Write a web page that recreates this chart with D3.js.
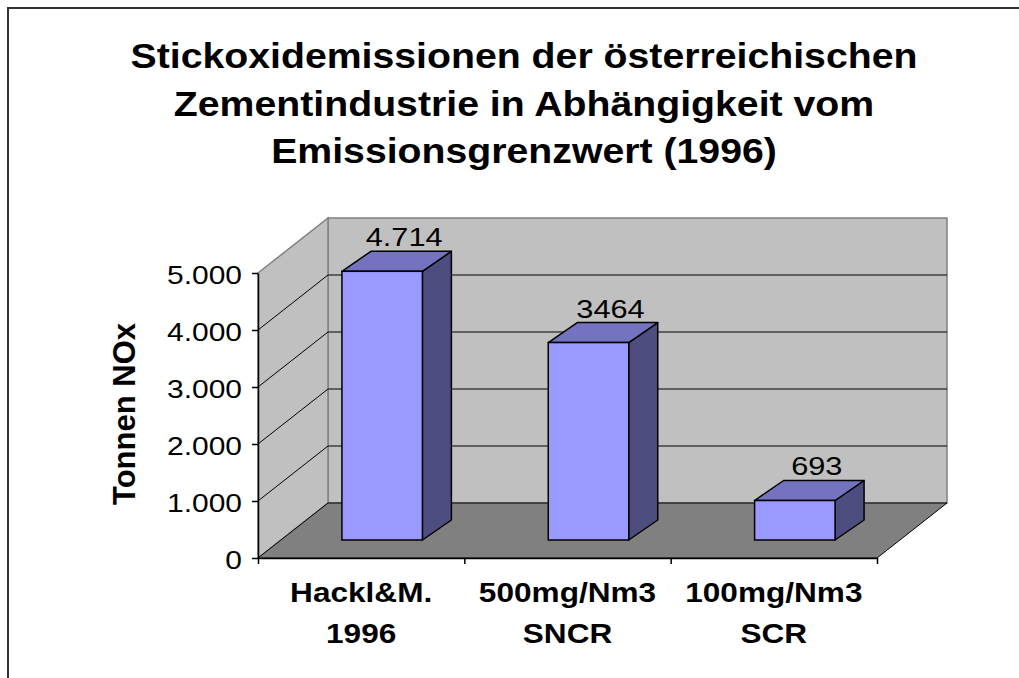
<!DOCTYPE html>
<meta charset="utf-8">
<script src="https://d3js.org/d3.v7.min.js"></script>
<style>
  body { margin: 0; background: #fff; }
  text { font-family: "Liberation Sans", Arial, sans-serif; fill: #000; }
</style>
<div id="chart"></div>
<script>
// data
var titleLines = ["Stickoxidemissionen der österreichischen",
                  "Zementindustrie in Abhängigkeit vom",
                  "Emissionsgrenzwert (1996)"];
var categories = [["Hackl&M.", "1996"], ["500mg/Nm3", "SNCR"], ["100mg/Nm3", "SCR"]];
var values = [4714, 3464, 693];
var valueLabels = ["4.714", "3464", "693"];
var yTicks = [0, 1000, 2000, 3000, 4000, 5000];
var yTickLabels = ["0", "1.000", "2.000", "3.000", "4.000", "5.000"];
var yTitle = "Tonnen NOx";

// layout
var W = 1019, H = 678;
var plotL = 258, plotR = 877, plotBase = 558, plotTop = 273;
var depth = {dx: 70, dy: -55};      // wall / floor depth
var barFront = {dx: 23, dy: -18};   // bar front face sits inside the floor
var barDepth = {dx: 29, dy: -20};   // bar thickness

var svg = d3.select("#chart").append("svg")
    .attr("width", W).attr("height", H);

// chart border
svg.append("rect")
    .attr("x", 8).attr("y", 8)
    .attr("width", W + 20).attr("height", H + 20)
    .attr("fill", "none").attr("stroke", "#333").attr("stroke-width", 2);

var y = d3.scaleLinear().domain([0, 5000]).range([plotBase, plotTop]);
var x = d3.scaleBand().domain(d3.range(categories.length)).range([plotL, plotR]);
var xEdge = d3.scaleLinear().domain([0, categories.length]).range([plotL, plotR]);

function pts(a) { return a.map(function(p) { return p.join(","); }).join(" "); }

// walls and floor
var yMax = y(5000), y0 = y(0);
svg.append("polygon")
    .attr("points", pts([[plotL + depth.dx, yMax + depth.dy], [plotR + depth.dx, yMax + depth.dy],
                         [plotR + depth.dx, y0 + depth.dy], [plotL + depth.dx, y0 + depth.dy]]))
    .attr("fill", "#c0c0c0").attr("stroke", "#808080").attr("stroke-width", 1.5);
svg.append("polygon")
    .attr("points", pts([[plotL, yMax], [plotL + depth.dx, yMax + depth.dy],
                         [plotL + depth.dx, y0 + depth.dy], [plotL, y0]]))
    .attr("fill", "#c0c0c0").attr("stroke", "#808080").attr("stroke-width", 1.5);
svg.append("polygon")
    .attr("points", pts([[plotL, y0], [plotR, y0], [plotR + depth.dx, y0 + depth.dy],
                         [plotL + depth.dx, y0 + depth.dy]]))
    .attr("fill", "#808080").attr("stroke", "#000").attr("stroke-width", 1);

// gridlines
var grid = yTicks.filter(function(d) { return d > 0 && d < 5000; });
svg.append("g").selectAll("line").data(grid).enter().append("line")
    .attr("x1", plotL + depth.dx).attr("x2", plotR + depth.dx)
    .attr("y1", function(d) { return y(d) + depth.dy; })
    .attr("y2", function(d) { return y(d) + depth.dy; })
    .attr("stroke", "#000").attr("stroke-width", 1);
svg.append("g").selectAll("line").data(grid).enter().append("line")
    .attr("x1", plotL).attr("x2", plotL + depth.dx)
    .attr("y1", function(d) { return y(d); })
    .attr("y2", function(d) { return y(d) + depth.dy; })
    .attr("stroke", "#000").attr("stroke-width", 1);

// bars
var barW = x.bandwidth() * 0.39;
var bars = svg.append("g").selectAll("g").data(values).enter().append("g");
function bx(i) { return x(i) + (x.bandwidth() - barW) / 2 + barFront.dx - 2; }
function byb() { return y0 + barFront.dy; }
function byt(d) { return y(d) + barFront.dy; }
bars.append("polygon") // side
    .attr("points", function(d, i) {
      var xr = bx(i) + barW;
      return pts([[xr, byt(d)], [xr + barDepth.dx, byt(d) + barDepth.dy],
                  [xr + barDepth.dx, byb() + barDepth.dy], [xr, byb()]]);
    })
    .attr("fill", "#4d4d80").attr("stroke", "#000").attr("stroke-width", 1.5).attr("stroke-linejoin", "round");
bars.append("polygon") // top
    .attr("points", function(d, i) {
      var xl = bx(i), xr = xl + barW, yt = byt(d);
      return pts([[xl, yt], [xl + barDepth.dx, yt + barDepth.dy],
                  [xr + barDepth.dx, yt + barDepth.dy], [xr, yt]]);
    })
    .attr("fill", "#7373bf").attr("stroke", "#000").attr("stroke-width", 1.5).attr("stroke-linejoin", "round");
bars.append("rect") // front
    .attr("x", function(d, i) { return bx(i); })
    .attr("y", function(d) { return byt(d); })
    .attr("width", barW)
    .attr("height", function(d) { return byb() - byt(d); })
    .attr("fill", "#9999ff").attr("stroke", "#000").attr("stroke-width", 1.5);

// value labels
bars.append("text")
    .attr("transform", function(d, i) {
      return "translate(" + (bx(i) + barW / 2 + 22) + "," + (byt(d) + barDepth.dy - 5) + ") scale(1.16,1)";
    })
    .attr("text-anchor", "middle")
    .style("font-size", "26.5px")
    .text(function(d, i) { return valueLabels[i]; });

// y axis
var yAxis = svg.append("g")
    .attr("transform", "translate(" + plotL + ",0)")
    .call(d3.axisLeft(y).tickValues(yTicks)
      .tickFormat(function(d, i) { return yTickLabels[i]; }).tickSize(6).tickSizeOuter(0));
yAxis.attr("font-family", null).attr("font-size", null);
yAxis.select(".domain").attr("stroke", "#000").attr("stroke-width", 1.5);
yAxis.selectAll(".tick line").attr("stroke", "#000").attr("stroke-width", 1.5);
yAxis.selectAll(".tick text")
    .attr("x", 0).attr("dy", "0.4em")
    .attr("transform", "translate(-16,0) scale(1.17,1)")
    .style("font-size", "25.6px");

// x axis
var xAxis = svg.append("g")
    .attr("transform", "translate(0," + plotBase + ")")
    .call(d3.axisBottom(xEdge).tickValues(d3.range(categories.length + 1))
      .tickFormat("").tickSize(6).tickSizeOuter(0));
xAxis.select(".domain").attr("stroke", "#000").attr("stroke-width", 1.5);
xAxis.selectAll(".tick line").attr("stroke", "#000").attr("stroke-width", 1.5);

// category labels
var cat = svg.append("g").selectAll("g").data(categories).enter().append("g");
cat.selectAll("text").data(function(d, i) { return d.map(function(t) { return {t: t, i: i}; }); })
  .enter().append("text")
    .attr("transform", function(d, j) {
      return "translate(" + (x(d.i) + x.bandwidth() / 2) + "," + (602 + j * 41) + ") scale(1.17,1)";
    })
    .attr("text-anchor", "middle")
    .style("font-size", "27px").style("font-weight", "bold")
    .text(function(d) { return d.t; });

// y title
svg.append("text")
    .attr("transform", "translate(135,414) rotate(-90)")
    .attr("text-anchor", "middle")
    .style("font-size", "31px").style("font-weight", "bold")
    .text(yTitle);

// title
svg.append("g").selectAll("text").data(titleLines).enter().append("text")
    .attr("transform", function(d, i) { return "translate(524," + (68 + i * 47.5) + ") scale(1.09,1)"; })
    .attr("text-anchor", "middle")
    .style("font-size", "36px").style("font-weight", "bold")
    .text(function(d) { return d; });
</script>
